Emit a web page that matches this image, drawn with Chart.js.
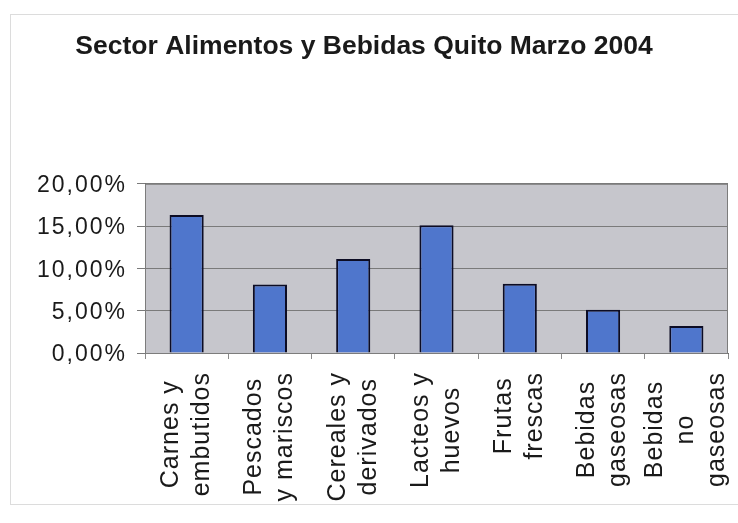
<!DOCTYPE html>
<html>
<head>
<meta charset="utf-8">
<script src="https://cdn.jsdelivr.net/npm/chart.js@4.4.1/dist/chart.umd.min.js"></script>
<style>
  html, body { margin: 0; padding: 0; background: #fff; }
  canvas { display: block; }
</style>
</head>
<body>
<canvas id="grafico" width="738" height="523"></canvas>
<script>
// Datos del sector
const titulo = 'Sector Alimentos y Bebidas Quito Marzo 2004';
const categorias = [
  ['Carnes y', 'embutidos'],
  ['Pescados', 'y mariscos'],
  ['Cereales y', 'derivados'],
  ['Lacteos y', 'huevos'],
  ['Frutas', 'frescas'],
  ['Bebidas', 'gaseosas'],
  ['Bebidas', 'no', 'gaseosas']
];
const porcentajes = [16.3, 8.1, 11.1, 15.1, 8.2, 5.1, 3.2];
const marcasY = [0, 5, 10, 15, 20];

const fuente = 'Liberation Sans, Arial, Helvetica, sans-serif';
const fmtPct = v => v.toFixed(2).replace('.', ',') + '%';

// fondo blanco, marco exterior y area de trazado gris
const fondo = {
  id: 'fondo',
  beforeDraw(chart) {
    const {ctx, chartArea: a} = chart;
    ctx.save();
    ctx.fillStyle = '#ffffff';
    ctx.fillRect(0, 0, chart.width, chart.height);
    ctx.strokeStyle = '#dcdcdc';
    ctx.lineWidth = 1;
    ctx.strokeRect(10.5, 14.5, chart.width, 490);
    ctx.fillStyle = '#c6c6cc';
    ctx.fillRect(a.left, a.top, a.right - a.left, a.bottom - a.top);
    ctx.restore();
  },
  afterDraw(chart) {
    const {ctx, chartArea: a} = chart;
    ctx.save();
    ctx.strokeStyle = '#7c7c7c';
    ctx.lineWidth = 1;
    ctx.strokeRect(a.left + 0.5, a.top + 0.5, a.right - a.left - 1, a.bottom - a.top);
    ctx.restore();
  }
};

// textos de los ejes: porcentajes a la izquierda, categorias verticales abajo
const etiquetas = {
  id: 'etiquetas',
  afterDraw(chart) {
    const {ctx} = chart;
    const xs = chart.scales.x;
    const ys = chart.scales.y;
    ctx.save();
    ctx.fillStyle = '#1a1a1a';
    const espaciado = 'letterSpacing' in ctx;

    // eje y
    ctx.font = '23px ' + fuente;
    ctx.textAlign = 'right';
    ctx.textBaseline = 'middle';
    if (espaciado) ctx.letterSpacing = '2px';
    marcasY.forEach(v => {
      ctx.fillText(fmtPct(v), ys.left + 127, ys.getPixelForValue(v) + 2);
    });

    // eje x
    const y0 = xs.top + 19;
    const alto = 31;
    ctx.font = '25px ' + fuente;
    ctx.textAlign = 'center';
    if (espaciado) ctx.letterSpacing = '1px';
    categorias.forEach((lineas, i) => {
      const x = xs.getPixelForTick(i);
      const ancho = Math.max(...lineas.map(l => ctx.measureText(l).width));
      ctx.save();
      ctx.translate(x, y0);
      ctx.rotate(-Math.PI / 2);
      lineas.forEach((l, j) => {
        ctx.fillText(l, -ancho / 2, (j - (lineas.length - 1) / 2) * alto);
      });
      ctx.restore();
    });
    ctx.restore();
  }
};

const ctx = document.getElementById('grafico').getContext('2d');
const grafico = new Chart(ctx, {
  type: 'bar',
  data: {
    labels: categorias,
    datasets: [{
      data: porcentajes,
      backgroundColor: '#4f76cc',
      borderColor: '#0c0c24',
      borderWidth: 2,
      categoryPercentage: 1,
      barPercentage: 0.41
    }]
  },
  options: {
    responsive: false,
    animation: false,
    layout: {padding: {top: 14, right: 10, bottom: 0, left: 0}},
    plugins: {
      legend: {display: false},
      tooltip: {enabled: false},
      title: {
        display: true,
        text: titulo,
        color: '#1a1a1a',
        font: {family: fuente, size: 26.5, weight: 'bold'},
        padding: {top: 17, bottom: 121}
      }
    },
    scales: {
      x: {
        grid: {offset: true, drawOnChartArea: false, drawTicks: true, tickLength: 6, color: '#8a8a8a'},
        border: {color: '#6a6a6a'},
        ticks: {display: false},
        afterFit(scale) { scale.height = 170; }
      },
      y: {
        min: marcasY[0],
        max: marcasY[marcasY.length - 1],
        afterBuildTicks(scale) { scale.ticks = marcasY.map(v => ({value: v})); },
        grid: {color: '#7a7a7a', tickLength: 8},
        border: {color: '#6a6a6a'},
        ticks: {display: false},
        afterFit(scale) { scale.width = 145; }
      }
    }
  },
  plugins: [fondo, etiquetas]
});
</script>
</body>
</html>
